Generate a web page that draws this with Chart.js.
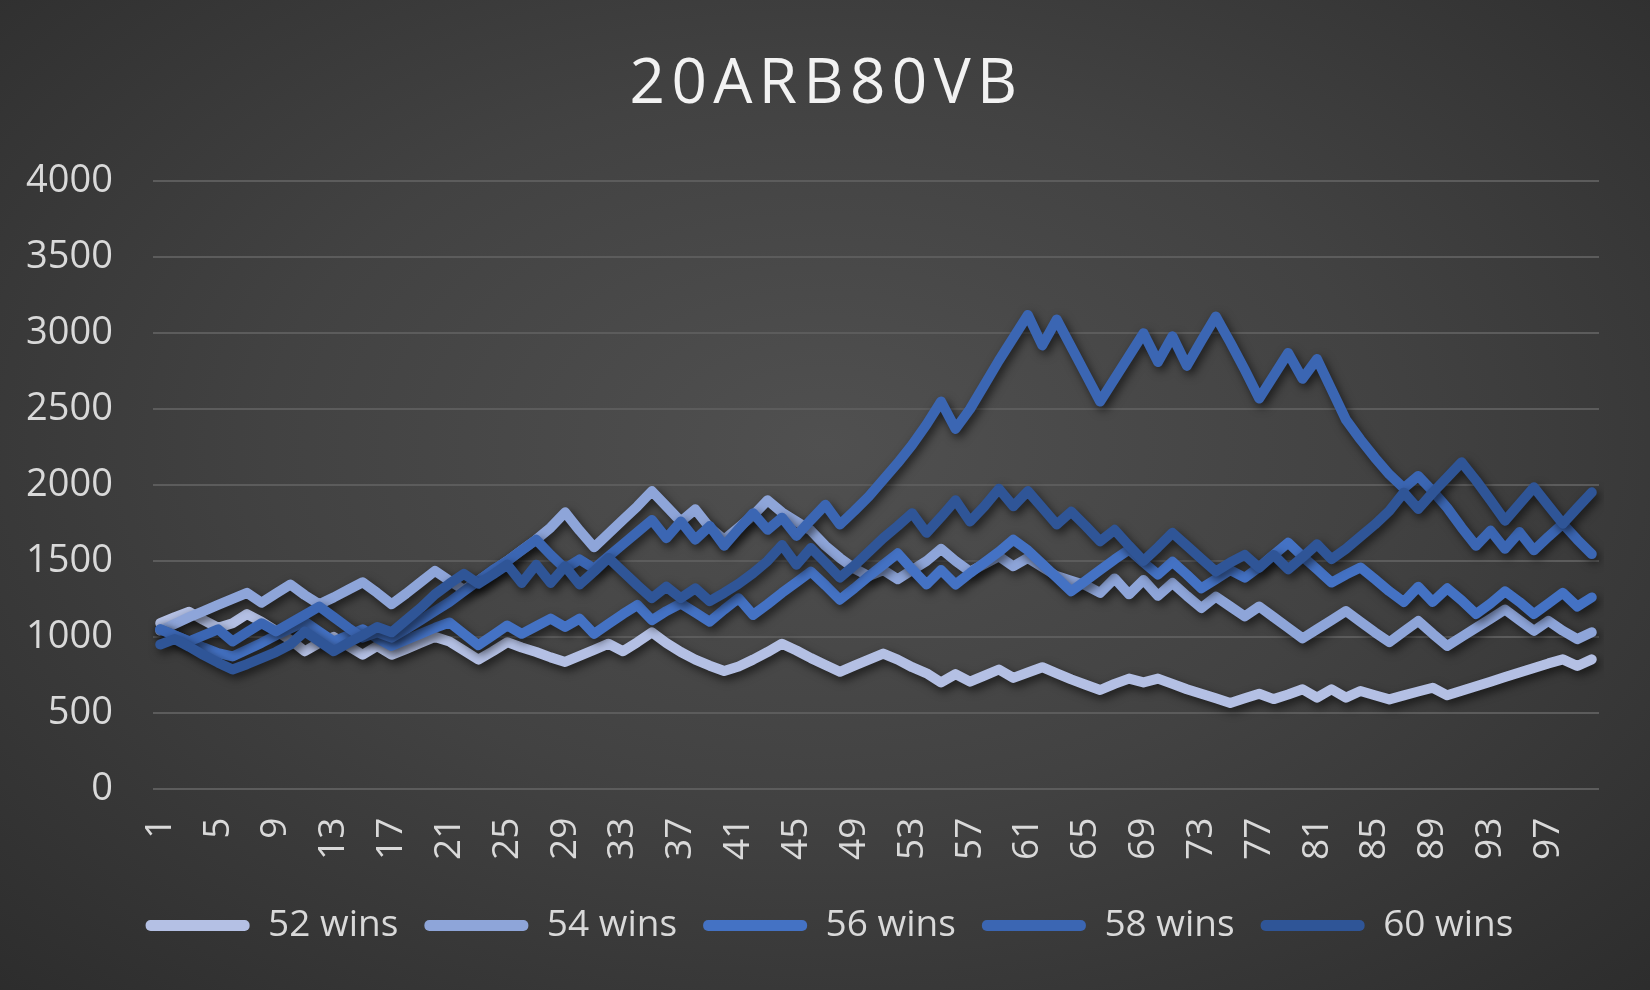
<!DOCTYPE html>
<html>
<head>
<meta charset="utf-8">
<script src="https://cdn.jsdelivr.net/npm/chart.js@4.4.1/dist/chart.umd.min.js"></script>
<style>
  html, body { margin: 0; padding: 0; }
  body { width: 1650px; height: 990px; overflow: hidden; }
  #wrap {
    width: 1650px; height: 990px; position: relative;
    background: radial-gradient(ellipse 75% 80% at 50% 45%, #505050 0%, #424242 45%, #2b2b2b 100%);
  }
</style>
</head>
<body>
<div id="wrap"><canvas id="chart"></canvas></div>
<script>
const seriesNames = ["52 wins", "54 wins", "56 wins", "58 wins", "60 wins"];
const seriesColors = ["#b4c0e4", "#8ea5d9", "#4472c4", "#3b66b3", "#2f5597"];

const rounds = Array.from({ length: 100 }, (_, i) => String(i + 1));

const wins52 = [
    1090, 1130, 1165, 1110, 1060, 1090, 1150, 1100, 1040, 980,
    905, 960, 1000, 940, 882, 940, 882, 920, 960, 1000,
    970, 910, 850, 905, 965, 930, 900, 865, 835, 875,
    915, 955, 905, 965, 1030, 960, 900, 850, 810, 775,
    805, 850, 900, 955, 910, 860, 815, 770, 810, 850,
    890, 850, 800, 760, 700, 755, 705, 745, 785, 730,
    765, 800, 760, 720, 685, 650, 690, 725, 700, 725,
    690, 655, 625, 595, 565, 595, 625, 590, 620, 655,
    600, 655, 600, 643, 615, 588, 615, 640, 665, 615,
    645, 675, 705, 735, 765, 795, 825, 852, 808, 852,
];
const wins54 = [
    1040, 1085, 1130, 1170, 1210, 1250, 1290, 1225, 1285, 1345,
    1275, 1215, 1260, 1310, 1360, 1290, 1215, 1285, 1360, 1435,
    1370, 1310, 1370, 1435, 1500, 1570, 1640, 1720, 1820, 1700,
    1590, 1680, 1770, 1860, 1960, 1860, 1760, 1840, 1720, 1640,
    1720, 1800, 1900, 1820, 1760, 1700, 1600, 1520, 1450, 1400,
    1440, 1380, 1440, 1500, 1580, 1500, 1430, 1480, 1530, 1465,
    1520, 1460, 1400, 1370, 1340, 1290, 1385, 1280, 1375, 1270,
    1355, 1270, 1190, 1265, 1200, 1135, 1200, 1130, 1060, 990,
    1050, 1110, 1170, 1100, 1030, 965, 1035, 1105, 1020, 940,
    1000, 1060, 1120, 1180, 1110, 1040, 1105, 1040, 985, 1030,
];
const wins56 = [
    1050, 1010, 970, 930, 893, 871, 915, 960, 1010, 1055,
    1100, 1035, 970, 1010, 1050, 990, 940, 980, 1020, 1060,
    1095, 1020, 945, 1010, 1075, 1020, 1070, 1120, 1065, 1120,
    1020, 1085, 1150, 1210, 1110, 1170, 1220, 1160, 1100, 1180,
    1255, 1145, 1215, 1290, 1360, 1430, 1340, 1245, 1320, 1400,
    1475, 1550, 1445, 1345, 1440, 1345, 1420, 1490, 1560, 1640,
    1570, 1480, 1390, 1300, 1370, 1440, 1510, 1575, 1490, 1410,
    1495, 1410, 1320, 1380, 1440, 1390, 1460, 1540, 1620, 1530,
    1445, 1358, 1410, 1457, 1380, 1300, 1230, 1330, 1230, 1320,
    1240, 1150, 1220, 1300, 1230, 1150, 1220, 1290, 1200, 1260,
];
const wins58 = [
    1050, 1010, 970, 1010, 1050, 970, 1030, 1090, 1036, 1090,
    1145, 1200, 1130, 1060, 995, 1030, 995, 1050, 1110, 1170,
    1230, 1300, 1370, 1440, 1500, 1570, 1640, 1540, 1450, 1510,
    1450, 1530, 1610, 1690, 1770, 1650, 1760, 1640, 1730, 1600,
    1710, 1815, 1705, 1785, 1665, 1770, 1870, 1740, 1830, 1925,
    2035, 2145, 2265, 2400, 2550, 2370, 2500, 2660, 2820, 2970,
    3120, 2920, 3090, 2910, 2730, 2550, 2700, 2850, 3000, 2810,
    2980, 2785, 2950, 3110, 2940, 2760, 2570, 2720, 2870, 2700,
    2830, 2630, 2430, 2300, 2180, 2070, 1980, 2060, 1960, 1850,
    1720, 1600, 1700, 1580, 1690, 1570, 1660, 1745, 1640, 1545,
];
const wins60 = [
    950, 985, 935, 880, 830, 785, 820, 860, 900, 950,
    1035, 970, 905, 960, 1010, 1065, 1030, 1110, 1190, 1280,
    1350, 1415, 1350, 1410, 1475, 1355, 1475, 1355, 1465, 1345,
    1430, 1520, 1430, 1340, 1255, 1330, 1255, 1320, 1235, 1290,
    1350, 1420, 1500, 1605, 1475, 1585, 1490, 1390, 1470, 1560,
    1650, 1730, 1815, 1685, 1790, 1900, 1760, 1860, 1975, 1860,
    1960, 1850, 1740, 1825, 1730, 1630, 1705, 1600, 1500, 1590,
    1685, 1600, 1515, 1430, 1490, 1540, 1455, 1540, 1445, 1525,
    1610, 1512, 1580, 1660, 1740, 1830, 1950, 1842, 1950, 2050,
    2150, 2030, 1900, 1765, 1875, 1985, 1865, 1745, 1850, 1952,
];
const yTicks = [0, 500, 1000, 1500, 2000, 2500, 3000, 3500, 4000];

const FONT = "'Open Sans', 'Noto Sans', sans-serif";
const TEXT = "#d9d9d9";

// soft drop shadow under every line
const lineShadow = {
    id: "lineShadow",
    beforeDatasetDraw(chart) {
        const ctx = chart.ctx;
        ctx.save();
        ctx.shadowColor = "rgba(0,0,0,0.6)";
        ctx.shadowBlur = 10;
        ctx.shadowOffsetX = 3;
        ctx.shadowOffsetY = 4;
    },
    afterDatasetDraw(chart) {
        chart.ctx.restore();
    },
};

// spaced-out title lettering; title and legend re-centred on the page
const tweaks = {
    id: "tweaks",
    afterLayout(chart) {
        if (chart.legend) chart.legend.left += 40;
        if (chart.titleBlock) chart.titleBlock.left += 34;
    },
    beforeDraw(chart) {
        const t = chart.titleBlock;
        if (!t || t._spaced) return;
        const draw = t.draw.bind(t);
        t.draw = function (area) {
            const ctx = this.ctx;
            ctx.save();
            ctx.letterSpacing = "6.4px";
            draw(area);
            ctx.restore();
        };
        t._spaced = true;
    },
};

const seriesData = [wins52, wins54, wins56, wins58, wins60];

new Chart(document.getElementById("chart"), {
    type: "line",
    data: {
        labels: rounds,
        datasets: seriesData.map((d, i) => ({
            label: seriesNames[i],
            data: d,
            borderColor: seriesColors[i],
            backgroundColor: seriesColors[i],
            borderWidth: 10,
            borderJoinStyle: "round",
            borderCapStyle: "round",
            pointRadius: 0,
            tension: 0,
            fill: false,
            order: seriesData.length - i,   // later series drawn on top
        })),
    },
    options: {
        responsive: true,
        maintainAspectRatio: false,
        animation: false,
        devicePixelRatio: 1,
        layout: { padding: { top: 10, left: 20, right: 51, bottom: 36 } },
        scales: {
            x: {
                offset: true,
                grid: { display: false },
                border: { display: false },
                ticks: {
                    autoSkip: false,
                    minRotation: 90,
                    maxRotation: 90,
                    padding: 21,
                    color: TEXT,
                    font: { family: FONT, size: 37 },
                    callback: (v, i) => (i % 4 === 0 ? rounds[i] : null),
                },
            },
            y: {
                min: 0,
                max: 4000,
                afterBuildTicks: (s) => { s.ticks = yTicks.map((v) => ({ value: v })); },
                afterFit: (s) => { s.width = 133; },
                grid: { color: "#5c5c5c", lineWidth: 2, drawTicks: false },
                border: { display: false },
                ticks: {
                    padding: 40,
                    color: TEXT,
                    font: { family: FONT, size: 38 },
                    callback: (v) => String(v),
                },
            },
        },
        plugins: {
            title: {
                display: true,
                text: "20ARB80VB",
                color: "#f2f2f2",
                font: { family: FONT, size: 62, weight: "normal" },
                padding: { top: 38, bottom: 59 },
            },
            legend: {
                position: "bottom",
                labels: {
                    color: TEXT,
                    font: { family: FONT, size: 37 },
                    boxWidth: 104,
                    boxHeight: 11,
                    useBorderRadius: true,
                    borderRadius: 5,
                    padding: 26,
                    generateLabels(chart) {
                        const items = Chart.defaults.plugins.legend.labels.generateLabels(chart);
                        items.forEach((it) => { it.lineWidth = 0; });
                        return items.sort((a, b) => a.datasetIndex - b.datasetIndex);
                    },
                },
            },
            tooltip: { enabled: false },
        },
    },
    plugins: [lineShadow, tweaks],
});
</script>
</body>
</html>
